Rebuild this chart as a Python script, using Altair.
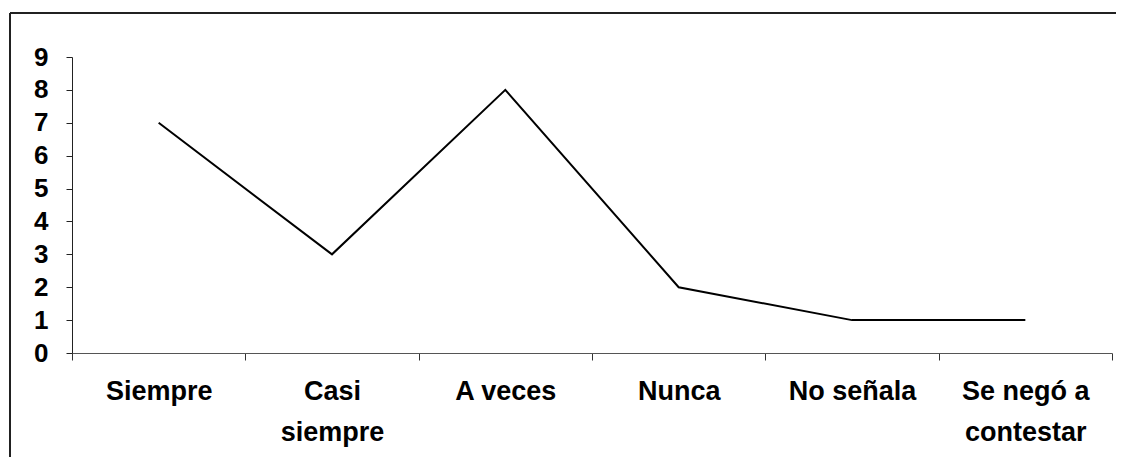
import altair as alt
import pandas as pd

categories = ["Siempre", "Casi siempre", "A veces", "Nunca", "No señala", "Se negó a contestar"]
values = [7, 3, 8, 2, 1, 1]
y_ticks = [0, 1, 2, 3, 4, 5, 6, 7, 8, 9]

df = pd.DataFrame({"cat": categories, "val": values})

FONT = "Liberation Sans"

label_expr = ("datum.value == 'Casi siempre' ? ['Casi', 'siempre'] : "
              "(datum.value == 'Se negó a contestar' ? ['Se negó a', 'contestar'] : datum.value)")

line = alt.Chart(df).mark_line(color="black", strokeWidth=2).encode(
    x=alt.X("cat:N", sort=categories, title=None,
            scale=alt.Scale(paddingInner=0, paddingOuter=0),
            axis=alt.Axis(labelAngle=0, labelExpr=label_expr, tickBand="extent",
                          domainColor="#555", tickColor="#333", tickSize=7,
                          labelPadding=18, labelFontSize=27, labelFont=FONT,
                          labelFontWeight="bold", labelColor="black",
                          labelLineHeight=41, labelBaseline="top")),
    y=alt.Y("val:Q", title=None,
            scale=alt.Scale(domain=[0, 9], nice=False),
            axis=alt.Axis(values=y_ticks, grid=False, domainColor="#222", tickColor="#222",
                          tickSize=6, labelPadding=18, labelFontSize=26, labelFont=FONT,
                          labelFontWeight="bold", labelColor="black"))
)

frame_left = alt.Chart(df).mark_rule(color="#222", strokeWidth=1.5).encode(
    x=alt.value(-62), y=alt.value(-44), y2=alt.value(420))
frame_top = alt.Chart(df).mark_rule(color="#222", strokeWidth=1.5).encode(
    x=alt.value(-62), x2=alt.value(1044), y=alt.value(-44))

chart = alt.layer(frame_left, frame_top, line).properties(
    width=1040, height=296,
    padding={"left": 64, "top": 49, "right": 4, "bottom": 104},
    autosize=alt.AutoSizeParams(type="none"),
    background="white"
).configure_view(stroke=None)

chart.save("out.html", embed_options={"renderer": "svg", "actions": False})
